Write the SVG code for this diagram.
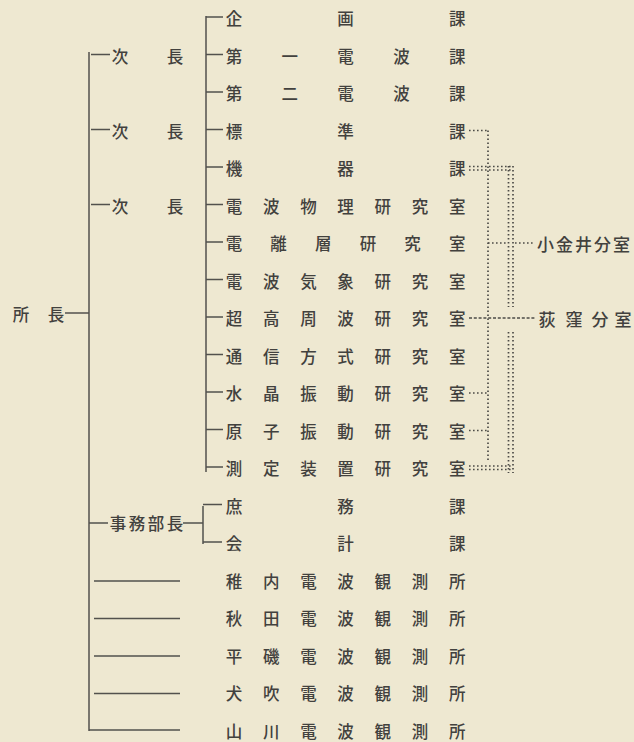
<svg xmlns="http://www.w3.org/2000/svg" width="634" height="742" viewBox="0 0 634 742">
<style>
.t{font-family:"Noto Sans CJK JP","Noto Sans CJK SC",sans-serif;font-size:16.5px;font-weight:500;fill:#42413e;text-anchor:middle;dominant-baseline:central}
.s{font-family:"Noto Sans CJK JP","Noto Sans CJK SC",sans-serif;font-size:17px;font-weight:500;fill:#42413e;dominant-baseline:central}
.ln{stroke:#52514d;stroke-width:1.5;fill:none}
.dt{stroke:#4c4b47;stroke-width:1.7;fill:none;stroke-dasharray:1.6 2.4}
.dd{stroke:#4c4b47;stroke-width:1.3;fill:none;stroke-dasharray:3 1.8}
</style>
<rect width="634" height="742" fill="#eee8d1"/>
<g id="connectors">
<path class="ln" d="M89 52V731"/>
<path class="ln" d="M65 313H89"/>
<path class="ln" d="M91 54.5H110M91 129.5H110M91 204.5H110"/>
<path class="ln" d="M206 16V472"/>
<path class="ln" d="M206 17H223M206 54.5H223M206 92H223M206 129.5H223M206 167H223M206 204.5H223M206 242H223M206 279.5H223M206 317H223M206 354.5H223M206 392H223M206 429.5H223M206 467H223"/>
<path class="ln" d="M89 523H108M183 523H203M203 506V544M203 504.5H222M203 542H222"/>
<path class="ln" d="M94 581H180M94 618.5H180M94 656H180M94 693.5H180M89 730H180"/>
<path class="dt" d="M469 130.5H488M488 130.5V462"/>
<path class="dt" d="M469 166.5H511M469 170H511"/>
<path class="dt" d="M508.5 166V307M513 166V307"/>
<path class="dt" d="M488 243H508M515 243H535"/>
<path class="dd" d="M469 318H536"/>
<path class="dt" d="M508.5 332V473M513 332V473"/>
<path class="dt" d="M469 393H488M469 430.5H488"/>
<path class="dt" d="M469 466H511M469 469.5H511"/>
</g>
<g id="n-shochou"><text class="t" x="21 56" y="314">所長</text></g>
<g id="n-jicho1"><text class="t" x="120 175" y="55.5">次長</text></g>
<g id="n-jicho2"><text class="t" x="120 175" y="130.5">次長</text></g>
<g id="n-jicho3"><text class="t" x="120 175" y="205.5">次長</text></g>
<g id="n-jimubucho"><text class="t" x="118 137 156 175" y="523">事務部長</text></g>
<g id="n-kikaku"><text class="t" x="234 345.6 457.2" y="18">企画課</text></g>
<g id="n-dai1"><text class="t" x="234 289.8 345.6 401.4 457.2" y="55.5">第一電波課</text></g>
<g id="n-dai2"><text class="t" x="234 289.8 345.6 401.4 457.2" y="93">第二電波課</text></g>
<g id="n-hyojun"><text class="t" x="234 345.6 457.2" y="130.5">標準課</text></g>
<g id="n-kiki"><text class="t" x="234 345.6 457.2" y="168">機器課</text></g>
<g id="n-butsuri"><text class="t" x="234 271.2 308.4 345.6 382.8 420 457.2" y="205.5">電波物理研究室</text></g>
<g id="n-denri"><text class="t" x="234 278.6 323.3 367.9 412.6 457.2" y="243">電離層研究室</text></g>
<g id="n-kisho"><text class="t" x="234 271.2 308.4 345.6 382.8 420 457.2" y="280.5">電波気象研究室</text></g>
<g id="n-chokoshu"><text class="t" x="234 271.2 308.4 345.6 382.8 420 457.2" y="318">超高周波研究室</text></g>
<g id="n-tsushin"><text class="t" x="234 271.2 308.4 345.6 382.8 420 457.2" y="355.5">通信方式研究室</text></g>
<g id="n-suisho"><text class="t" x="234 271.2 308.4 345.6 382.8 420 457.2" y="393">水晶振動研究室</text></g>
<g id="n-genshi"><text class="t" x="234 271.2 308.4 345.6 382.8 420 457.2" y="430.5">原子振動研究室</text></g>
<g id="n-sokutei"><text class="t" x="234 271.2 308.4 345.6 382.8 420 457.2" y="468">測定装置研究室</text></g>
<g id="n-shomu"><text class="t" x="234 345.6 457.2" y="505.5">庶務課</text></g>
<g id="n-kaikei"><text class="t" x="234 345.6 457.2" y="543">会計課</text></g>
<g id="n-wakkanai"><text class="t" x="234 271.2 308.4 345.6 382.8 420 457.2" y="580.5">稚内電波観測所</text></g>
<g id="n-akita"><text class="t" x="234 271.2 308.4 345.6 382.8 420 457.2" y="618">秋田電波観測所</text></g>
<g id="n-hiraiso"><text class="t" x="234 271.2 308.4 345.6 382.8 420 457.2" y="655.5">平磯電波観測所</text></g>
<g id="n-inubo"><text class="t" x="234 271.2 308.4 345.6 382.8 420 457.2" y="693">犬吹電波観測所</text></g>
<g id="n-yamakawa"><text class="t" x="234 271.2 308.4 345.6 382.8 420 457.2" y="730.5">山川電波観測所</text></g>
<g id="n-koganei"><text class="s" x="537" y="243" letter-spacing="2">小金井分室</text></g>
<g id="n-ogikubo"><text class="t" style="font-size:17px" x="547 574 600 623" y="318">荻窪分室</text></g>
</svg>
